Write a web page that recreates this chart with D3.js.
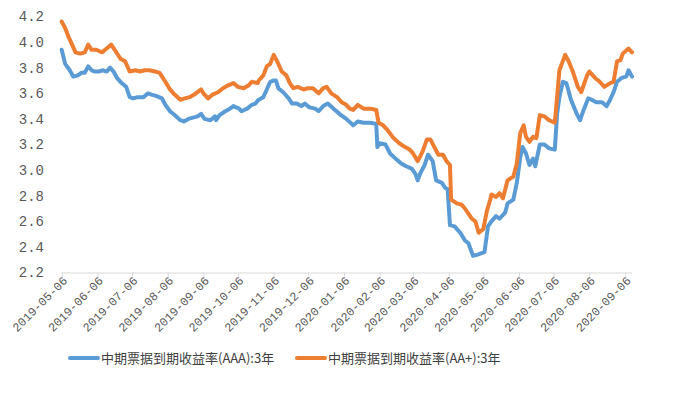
<!DOCTYPE html>
<html><head><meta charset="utf-8">
<script src="https://cdn.jsdelivr.net/npm/d3@7"></script>
<style>body{margin:0;background:#fff}svg{display:block}</style>
</head><body><div id="chart"></div>
<script>
const seriesNames = ["中期票据到期收益率(AAA):3年", "中期票据到期收益率(AA+):3年"];
const seriesColors = ["#5B9BD5", "#ED7D31"];

const datesAAA = ["2019-05-06","2019-05-09","2019-05-13","2019-05-16","2019-05-20","2019-05-23","2019-05-26","2019-05-29","2019-06-01","2019-06-04","2019-06-07","2019-06-11","2019-06-14","2019-06-17","2019-06-20","2019-06-23","2019-06-27","2019-07-01","2019-07-04","2019-07-07","2019-07-11","2019-07-16","2019-07-20","2019-07-23","2019-07-27","2019-08-01","2019-08-04","2019-08-08","2019-08-12","2019-08-17","2019-08-20","2019-08-24","2019-08-28","2019-09-01","2019-09-04","2019-09-07","2019-09-12","2019-09-16","2019-09-17","2019-09-20","2019-09-25","2019-09-29","2019-10-02","2019-10-07","2019-10-09","2019-10-14","2019-10-18","2019-10-21","2019-10-24","2019-10-28","2019-10-31","2019-11-03","2019-11-06","2019-11-08","2019-11-10","2019-11-14","2019-11-19","2019-11-22","2019-11-26","2019-11-30","2019-12-03","2019-12-07","2019-12-12","2019-12-15","2019-12-19","2019-12-23","2019-12-28","2020-01-02","2020-01-08","2020-01-14","2020-01-18","2020-01-23","2020-01-29","2020-02-03","2020-02-04","2020-02-06","2020-02-11","2020-02-15","2020-02-21","2020-02-25","2020-02-29","2020-03-05","2020-03-08","2020-03-10","2020-03-12","2020-03-16","2020-03-19","2020-03-23","2020-03-26","2020-03-31","2020-04-03","2020-04-05","2020-04-07","2020-04-11","2020-04-16","2020-04-20","2020-04-23","2020-04-27","2020-05-01","2020-05-07","2020-05-10","2020-05-13","2020-05-17","2020-05-20","2020-05-25","2020-05-27","2020-06-01","2020-06-04","2020-06-07","2020-06-09","2020-06-12","2020-06-15","2020-06-18","2020-06-20","2020-06-24","2020-06-28","2020-07-02","2020-07-07","2020-07-09","2020-07-11","2020-07-14","2020-07-17","2020-07-21","2020-07-26","2020-07-29","2020-08-01","2020-08-05","2020-08-08","2020-08-12","2020-08-17","2020-08-21","2020-08-24","2020-08-27","2020-08-30","2020-09-03","2020-09-07","2020-09-09","2020-09-12"];
const valuesAAA = [3.94,3.83,3.78,3.73,3.74,3.76,3.76,3.81,3.78,3.77,3.77,3.78,3.77,3.80,3.77,3.72,3.68,3.65,3.57,3.56,3.57,3.57,3.60,3.59,3.58,3.56,3.51,3.46,3.43,3.39,3.38,3.40,3.41,3.42,3.44,3.40,3.39,3.42,3.39,3.43,3.46,3.48,3.50,3.48,3.46,3.48,3.51,3.52,3.55,3.57,3.63,3.69,3.70,3.70,3.64,3.61,3.56,3.52,3.52,3.50,3.52,3.49,3.48,3.46,3.50,3.52,3.48,3.44,3.40,3.35,3.38,3.37,3.37,3.36,3.18,3.21,3.20,3.13,3.08,3.05,3.03,3.01,2.97,2.92,2.97,3.04,3.12,3.07,2.92,2.90,2.86,2.85,2.57,2.56,2.51,2.45,2.43,2.33,2.34,2.36,2.56,2.60,2.64,2.62,2.67,2.74,2.77,2.90,3.10,3.18,3.13,3.04,3.09,3.03,3.20,3.20,3.17,3.16,3.44,3.57,3.69,3.68,3.55,3.44,3.39,3.47,3.56,3.55,3.53,3.53,3.50,3.55,3.61,3.69,3.72,3.73,3.78,3.73];

const datesAAp = ["2019-05-06","2019-05-09","2019-05-12","2019-05-15","2019-05-18","2019-05-22","2019-05-26","2019-05-29","2019-06-01","2019-06-05","2019-06-10","2019-06-14","2019-06-18","2019-06-21","2019-06-26","2019-06-30","2019-07-04","2019-07-09","2019-07-13","2019-07-17","2019-07-21","2019-07-26","2019-07-30","2019-08-04","2019-08-08","2019-08-12","2019-08-17","2019-08-21","2019-08-25","2019-08-29","2019-09-04","2019-09-06","2019-09-10","2019-09-14","2019-09-19","2019-09-23","2019-09-27","2019-10-02","2019-10-06","2019-10-11","2019-10-15","2019-10-18","2019-10-23","2019-10-24","2019-10-28","2019-10-31","2019-11-03","2019-11-06","2019-11-09","2019-11-13","2019-11-17","2019-11-20","2019-11-23","2019-11-27","2019-12-02","2019-12-06","2019-12-10","2019-12-15","2019-12-19","2019-12-22","2019-12-26","2019-12-31","2020-01-04","2020-01-08","2020-01-11","2020-01-14","2020-01-18","2020-01-23","2020-01-29","2020-02-03","2020-02-05","2020-02-09","2020-02-13","2020-02-18","2020-02-23","2020-02-28","2020-03-03","2020-03-06","2020-03-10","2020-03-14","2020-03-18","2020-03-21","2020-03-25","2020-03-28","2020-04-01","2020-04-04","2020-04-07","2020-04-08","2020-04-13","2020-04-17","2020-04-20","2020-04-23","2020-04-26","2020-04-29","2020-05-02","2020-05-06","2020-05-09","2020-05-12","2020-05-13","2020-05-17","2020-05-20","2020-05-23","2020-05-27","2020-06-01","2020-06-04","2020-06-07","2020-06-10","2020-06-12","2020-06-15","2020-06-18","2020-06-21","2020-06-24","2020-06-28","2020-07-02","2020-07-07","2020-07-09","2020-07-11","2020-07-16","2020-07-19","2020-07-23","2020-07-27","2020-07-30","2020-08-04","2020-08-06","2020-08-11","2020-08-15","2020-08-19","2020-08-24","2020-08-27","2020-08-30","2020-09-02","2020-09-04","2020-09-09","2020-09-12"];
const valuesAAp = [4.16,4.11,4.04,3.98,3.92,3.91,3.92,3.98,3.94,3.94,3.92,3.95,3.98,3.94,3.87,3.85,3.77,3.78,3.77,3.78,3.78,3.77,3.76,3.69,3.63,3.59,3.55,3.56,3.57,3.59,3.63,3.60,3.56,3.59,3.61,3.64,3.66,3.68,3.65,3.64,3.66,3.69,3.68,3.70,3.74,3.81,3.83,3.90,3.85,3.77,3.74,3.68,3.64,3.65,3.63,3.64,3.64,3.60,3.64,3.65,3.60,3.57,3.53,3.51,3.48,3.47,3.51,3.48,3.48,3.47,3.37,3.35,3.31,3.25,3.21,3.18,3.16,3.13,3.07,3.14,3.24,3.24,3.17,3.12,3.12,3.07,3.04,2.77,2.74,2.73,2.70,2.66,2.62,2.60,2.51,2.54,2.68,2.77,2.81,2.79,2.82,2.78,2.92,2.95,3.05,3.29,3.35,3.26,3.22,3.26,3.25,3.43,3.42,3.39,3.37,3.57,3.78,3.90,3.85,3.76,3.65,3.61,3.74,3.77,3.72,3.69,3.65,3.68,3.69,3.85,3.86,3.91,3.95,3.92];

const xTickLabels = ["2019-05-06","2019-06-06","2019-07-06","2019-08-06","2019-09-06","2019-10-06","2019-11-06","2019-12-06","2020-01-06","2020-02-06","2020-03-06","2020-04-06","2020-05-06","2020-06-06","2020-07-06","2020-08-06","2020-09-06"];
const yTickValues = [2.2,2.4,2.6,2.8,3.0,3.2,3.4,3.6,3.8,4.0,4.2];
const xDomain = ["2019-05-06","2020-09-12"];

const W = 684, H = 393;
const parse = d3.timeParse("%Y-%m-%d");
const svg = d3.select("#chart").append("svg").attr("width", W).attr("height", H);

const x = d3.scaleTime().domain(xDomain.map(parse)).range([61.7, 632]);
const y = d3.scaleLinear().domain([2.2, 4.2]).range([272.5, 16.5]);

// y labels
svg.append("g").selectAll("text").data(yTickValues).join("text")
  .attr("x", 44).attr("y", d => y(d)).attr("dy", "0.35em")
  .attr("text-anchor", "end")
  .attr("font-family", "'Liberation Mono', monospace").attr("font-size", 14)
  .attr("fill", "#595959")
  .text(d => d.toFixed(1));

// x axis
const xAxis = d3.axisBottom(x)
  .tickValues(xTickLabels.map(parse))
  .tickSize(4).tickSizeOuter(0)
  .tickFormat(d3.timeFormat("%Y-%m-%d"));
const gx = svg.append("g").attr("transform", `translate(0,${y(2.2)})`).call(xAxis);
gx.select(".domain").attr("stroke", "#d9d9d9").attr("stroke-width", 1)
  .attr("d", `M${x.range()[0]},0.5H${x.range()[1]}`);
gx.selectAll(".tick line").attr("stroke", "#d9d9d9");
gx.selectAll(".tick text")
  .attr("font-family", "'Liberation Mono', monospace").attr("font-size", 12)
  .attr("fill", "#595959")
  .attr("text-anchor", "end")
  .attr("transform", "translate(3,6) rotate(-45)")
  .attr("x", 0).attr("y", 0).attr("dy", "0.35em");

// lines
const series = [
  {dates: datesAAA, values: valuesAAA},
  {dates: datesAAp, values: valuesAAp}
];
const line = d3.line().x(d => x(d[0])).y(d => y(d[1])).curve(d3.curveLinear);
series.forEach((s, i) => {
  const pts = s.dates.map((d, j) => [parse(d), s.values[j]]);
  svg.append("path").datum(pts)
    .attr("fill", "none").attr("stroke", seriesColors[i])
    .attr("stroke-width", 4).attr("stroke-linejoin", "round").attr("stroke-linecap", "round")
    .attr("d", line);
});

// legend
const legX = [70, 297];
const lg = svg.append("g");
seriesNames.forEach((name, i) => {
  lg.append("line").attr("x1", legX[i]).attr("x2", legX[i] + 28)
    .attr("y1", 358).attr("y2", 358)
    .attr("stroke", seriesColors[i]).attr("stroke-width", 4).attr("stroke-linecap", "round");
  lg.append("text").attr("x", legX[i] + 31).attr("y", 358).attr("dy", "0.36em")
    .attr("font-family", "'Noto Sans CJK SC', sans-serif").attr("font-size", 13)
    .attr("fill", "#404040")
    .text(name);
});
</script></body></html>
